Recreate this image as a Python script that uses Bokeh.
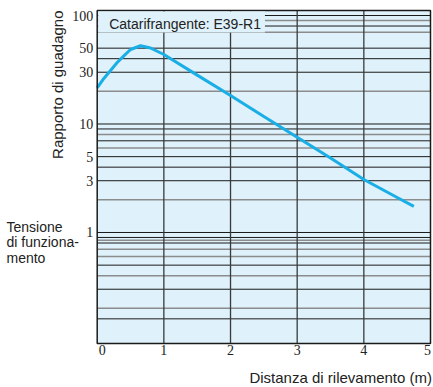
import math
from bokeh.plotting import figure
from bokeh.models import Range1d, Label, LabelSet, ColumnDataSource
from bokeh.embed import file_html
from bokeh.resources import INLINE

# ---- data ----
distance = [0, 0.1, 0.2, 0.3, 0.4, 0.5, 0.65, 0.8, 1.0, 1.5, 2.0, 2.5, 3.0, 3.5, 4.0, 4.5, 4.75]
gain = [21.5, 26.3, 31.1, 36.9, 42.5, 48.6, 52.6, 50.2, 43.7, 28.2, 18.3, 11.7, 7.56, 4.85, 3.08, 2.10, 1.74]

x_ticks = [0, 1, 2, 3, 4, 5]
x_tick_labels = ["0", "1", "2", "3", "4", "5"]
y_ticks = [1, 3, 5, 10, 30, 50, 100]
y_tick_labels = ["1", "3", "5", "10", "30", "50", "100"]

grid_black = [100, 80, 50, 40, 30, 10, 9, 7, 5, 4, 3, 1, 0.9, 0.8, 0.5, 0.3, 0.16]
grid_gray = [90, 70, 20, 8, 6, 2, 0.85, 0.7, 0.6, 0.4, 0.2]
grid_vertical = [1, 2, 3, 4]

x_min, x_max = 0, 5
y_min, y_max = 0.0948, 111.2

# ---- layout (page pixels) ----
W, H = 433, 387
BOX_L, BOX_R, BOX_T, BOX_B = 96.7, 430.0, 10.0, 343.0
px_x = (BOX_R - BOX_L) / (x_max - x_min)
decade = (BOX_B - BOX_T) / (math.log10(y_max) - math.log10(y_min))

def xdata(page_x):
    return x_min + (page_x - BOX_L) / px_x

def ydata(page_y):
    return 10 ** (math.log10(y_max) - (page_y - BOX_T) / decade)

FONT = "Liberation Sans"
TXT = "#222222"

p = figure(width=W, height=H, y_axis_type="log",
           x_range=Range1d(xdata(0), xdata(W)), y_range=Range1d(ydata(H), ydata(0)),
           output_backend="svg", toolbar_location=None,
           min_border=0, min_border_left=0, min_border_right=0,
           min_border_top=0, min_border_bottom=0)
p.axis.visible = False
p.grid.visible = False
p.outline_line_color = None
p.background_fill_color = "white"
p.border_fill_color = "white"

# plot box background
p.quad(left=[x_min], right=[x_max], bottom=[y_min], top=[y_max],
       fill_color="#dff1fa", line_color=None)

# grid lines
p.segment(x0=[x_min] * len(grid_gray), x1=[x_max] * len(grid_gray), y0=grid_gray, y1=grid_gray,
          line_color="#8c8c8c", line_width=1.5)
p.segment(x0=[x_min] * len(grid_black), x1=[x_max] * len(grid_black), y0=grid_black, y1=grid_black,
          line_color="#1a1a1a", line_width=1)
p.segment(x0=grid_vertical, x1=grid_vertical, y0=[y_min] * len(grid_vertical),
          y1=[y_max] * len(grid_vertical), line_color="#3a3a3a", line_width=1.3)

# curve
p.line(distance, gain, line_color="#19aee6", line_width=3)

# box outline
p.quad(left=[x_min], right=[x_max], bottom=[y_min], top=[y_max],
       fill_color=None, line_color="#1a1a1a", line_width=1.5)

# in-plot caption box
p.add_layout(Label(x=x_min, y=y_max, anchor="top_left", text="Catarifrangente: E39-R1",
                   text_font=FONT, text_font_size="14px", text_color=TXT,
                   background_fill_color="#dff1fa",
                   x_offset=1, y_offset=-1,
                   padding=dict(left=11, right=4, top=4, bottom=1)))

# y tick labels
ysrc = ColumnDataSource(dict(x=[x_min] * len(y_ticks), y=y_ticks, text=y_tick_labels))
p.add_layout(LabelSet(x="x", y="y", text="text", source=ysrc, x_offset=-4,
                      text_align="right", text_baseline="middle",
                      text_font=FONT, text_font_size="14px", text_color=TXT))

# x tick labels
xsrc = ColumnDataSource(dict(x=x_ticks, y=[y_min] * len(x_ticks), text=x_tick_labels,
                             xoff=[5, 0, 0, 0, 0, -3]))
p.add_layout(LabelSet(x="x", y="y", text="text", source=xsrc, x_offset="xoff", y_offset=-1,
                      text_align="center", text_baseline="top",
                      text_font=FONT, text_font_size="14px", text_color=TXT))

# titles
p.add_layout(Label(x=xdata(48), y=y_max, text="Rapporto di guadagno", angle=math.pi / 2,
                   text_align="right", text_baseline="top",
                   text_font=FONT, text_font_size="15px", text_color=TXT))
p.add_layout(Label(x=xdata(431.5), y=ydata(368), text="Distanza di rilevamento (m)",
                   text_align="right", text_baseline="top",
                   text_font=FONT, text_font_size="15px", text_color=TXT))
p.add_layout(Label(x=xdata(6), y=ydata(218), text="Tensione\ndi funziona-\nmento",
                   text_align="left", text_baseline="top", text_line_height=0.98,
                   text_font=FONT, text_font_size="14px", text_color=TXT))

open("out.html", "w").write(file_html(p, INLINE))
